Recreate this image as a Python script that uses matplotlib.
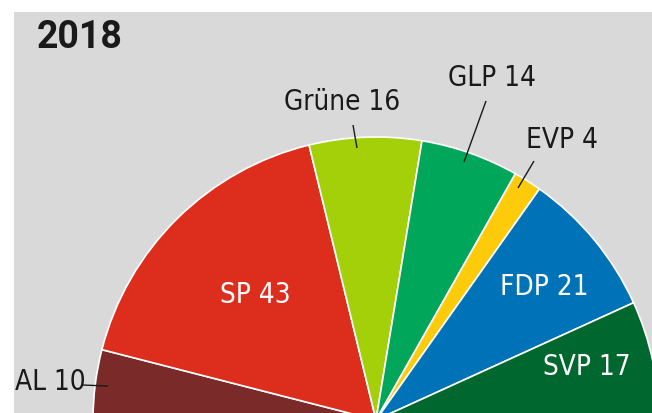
import matplotlib
matplotlib.use("Agg")
import matplotlib.pyplot as plt
from matplotlib.patches import Rectangle

# Data
parties = ["AL", "SP", "Grüne", "GLP", "EVP", "FDP", "SVP"]
seats = [10, 43, 16, 14, 4, 21, 17]
colors = ["#7b2a2a", "#dc2d1d", "#a4d00a", "#00a659", "#fecb0b", "#0072b8", "#00672f"]
title = "2018"

W, H = 652, 413
fig = plt.figure(figsize=(W / 100, H / 100), dpi=100)
fig.patch.set_facecolor("white")

# background panel (pixel coordinates)
bg = fig.add_axes([0, 0, 1, 1])
bg.set_xlim(0, W)
bg.set_ylim(H, 0)
bg.axis("off")
bg.add_patch(Rectangle((14, 12), W - 14, H - 12, facecolor="#d9d9d9", edgecolor="none"))

# pie (half circle), centre slightly below the image bottom
cx, cy, r = 376, 420, 283
pax = fig.add_axes([(cx - r) / W, (H - cy - r) / H, 2 * r / W, 2 * r / H])
pax.patch.set_alpha(0)
total = sum(seats)
wedges, _ = pax.pie(seats + [total], colors=colors + ["none"], startangle=180,
                    counterclock=False, radius=1,
                    wedgeprops=dict(edgecolor="white", linewidth=1.2))
wedges[-1].set_edgecolor("none")
pax.set_xlim(-1, 1)
pax.set_ylim(-1, 1)
pax.axis("off")

# overlay for texts
ov = fig.add_axes([0, 0, 1, 1])
ov.set_xlim(0, W)
ov.set_ylim(H, 0)
ov.axis("off")
ov.patch.set_alpha(0)

ov.text(37, 48, title, fontsize=27, fontweight="bold", family=["Roboto", "DejaVu Sans"],
        color="#1a1a1a", ha="left", va="baseline")

lab_font = ["DejaVu Sans"]
label_pos = {
    "AL": (50, 382, "#1a1a1a"),
    "SP": (255, 295, "white"),
    "Grüne": (342, 102, "#1a1a1a"),
    "GLP": (492, 78, "#1a1a1a"),
    "EVP": (562, 140, "#1a1a1a"),
    "FDP": (544, 287, "white"),
    "SVP": (587, 367, "white"),
}
for p, s in zip(parties, seats):
    x, y, c = label_pos[p]
    ov.text(x, y, f"{p} {s}", fontsize=20, family=lab_font, stretch="condensed",
            color=c, ha="center", va="center")

leaders = {
    "AL": ((82, 385), (108, 386)),
    "Grüne": ((353, 125), (357, 148)),
    "GLP": ((486, 101), (464, 162)),
    "EVP": ((534, 161), (518, 188)),
}
for p, ((x1, y1), (x2, y2)) in leaders.items():
    ov.plot([x1, x2], [y1, y2], color="#1a1a1a", lw=1.0, solid_capstyle="butt")

fig.savefig("out.png", dpi=100, facecolor="white")
